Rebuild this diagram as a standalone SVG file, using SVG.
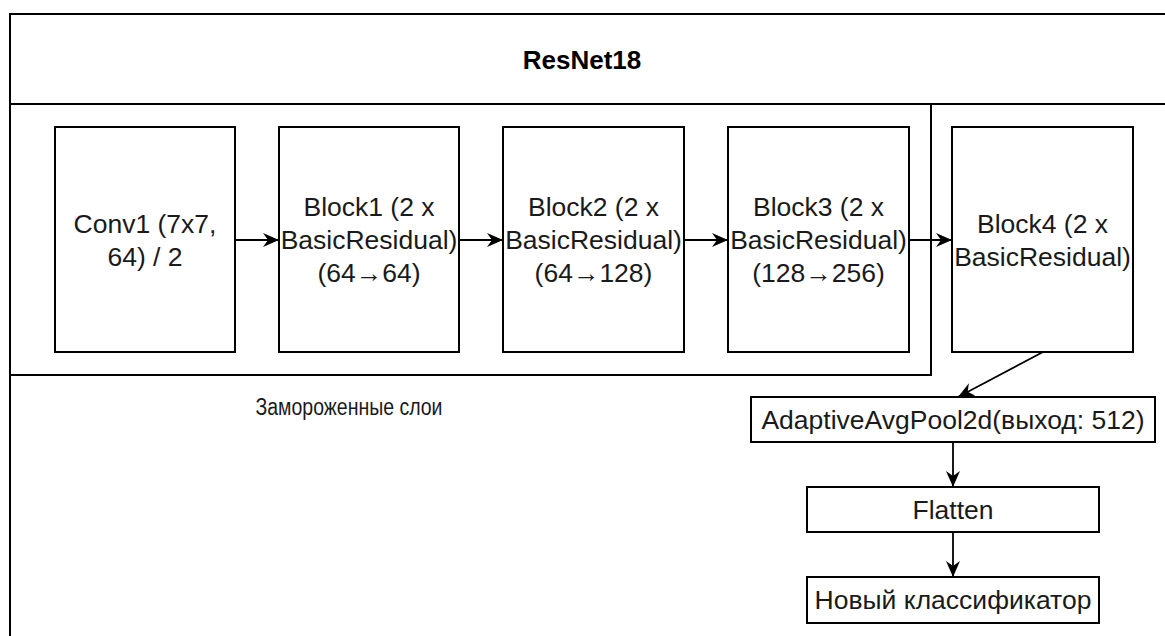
<svg xmlns="http://www.w3.org/2000/svg" width="1165" height="636" viewBox="0 0 1165 636">
<defs>
<style>
.box{fill:#fff;stroke:#000;stroke-width:2}
.frame{fill:none;stroke:#000;stroke-width:2}
.t{font-family:"Liberation Sans",Arial,sans-serif;font-size:26.5px;fill:#1a1a1a;text-anchor:middle}
.title{font-family:"Liberation Sans",Arial,sans-serif;font-size:26px;font-weight:bold;fill:#000;text-anchor:middle}
.lbl{font-family:"Liberation Sans",Arial,sans-serif;font-size:23px;fill:#1a1a1a;text-anchor:middle}
.edge{fill:none;stroke:#000;stroke-width:1.8}
</style>
<marker id="ah" markerWidth="18" markerHeight="16" refX="16" refY="7" orient="auto" markerUnits="userSpaceOnUse">
<path d="M0,0 L16,7 L0,14 L5,7 Z" fill="#000"/>
</marker>
</defs>
<rect width="1165" height="636" fill="#fff"/>
<g id="frame">
<rect class="frame" x="10" y="14" width="1200" height="700"/>
<line class="frame" x1="10" y1="104" x2="1165" y2="104"/>
<text class="title" x="582" y="69">ResNet18</text>
</g>
<g id="frozen">
<rect class="frame" x="10" y="104" width="921" height="271"/>
<text class="lbl" x="349" y="415" textLength="187" lengthAdjust="spacingAndGlyphs">Замороженные слои</text>
</g>
<g id="conv1">
<rect class="box" x="55" y="127" width="180" height="225"/>
<text class="t" x="145" y="233">Conv1 (7x7,</text>
<text class="t" x="145" y="266">64) / 2</text>
</g>
<g id="block1">
<rect class="box" x="279" y="127" width="180" height="225"/>
<text class="t" x="369" y="216">Block1 (2 x</text>
<text class="t" x="369" y="249">BasicResidual)</text>
<text class="t" x="369" y="282">(64→64)</text>
</g>
<g id="block2">
<rect class="box" x="503" y="127" width="181" height="225"/>
<text class="t" x="593.5" y="216">Block2 (2 x</text>
<text class="t" x="593.5" y="249">BasicResidual)</text>
<text class="t" x="593.5" y="282">(64→128)</text>
</g>
<g id="block3">
<rect class="box" x="728" y="127" width="181" height="225"/>
<text class="t" x="818.5" y="216">Block3 (2 x</text>
<text class="t" x="818.5" y="249">BasicResidual)</text>
<text class="t" x="818.5" y="282">(128→256)</text>
</g>
<g id="block4">
<rect class="box" x="952" y="127" width="181" height="225"/>
<text class="t" x="1042.5" y="233">Block4 (2 x</text>
<text class="t" x="1042.5" y="266">BasicResidual)</text>
</g>
<g id="pool">
<rect class="box" x="751" y="397" width="404" height="45"/>
<text class="t" x="953" y="429">AdaptiveAvgPool2d(выход: 512)</text>
</g>
<g id="flatten">
<rect class="box" x="807" y="487" width="292" height="45"/>
<text class="t" x="953" y="519">Flatten</text>
</g>
<g id="classifier">
<rect class="box" x="807" y="577" width="292" height="46"/>
<text class="t" x="953" y="609">Новый классификатор</text>
</g>
<g id="connectors">
<line class="edge" x1="235" y1="240" x2="279" y2="240" marker-end="url(#ah)"/>
<line class="edge" x1="459" y1="240" x2="503" y2="240" marker-end="url(#ah)"/>
<line class="edge" x1="684" y1="240" x2="728" y2="240" marker-end="url(#ah)"/>
<line class="edge" x1="909" y1="240" x2="952" y2="240" marker-end="url(#ah)"/>
<line class="edge" x1="1043" y1="352" x2="958" y2="397" marker-end="url(#ah)"/>
<line class="edge" x1="953" y1="442" x2="953" y2="487" marker-end="url(#ah)"/>
<line class="edge" x1="953" y1="532" x2="953" y2="577" marker-end="url(#ah)"/>
</g>
</svg>
